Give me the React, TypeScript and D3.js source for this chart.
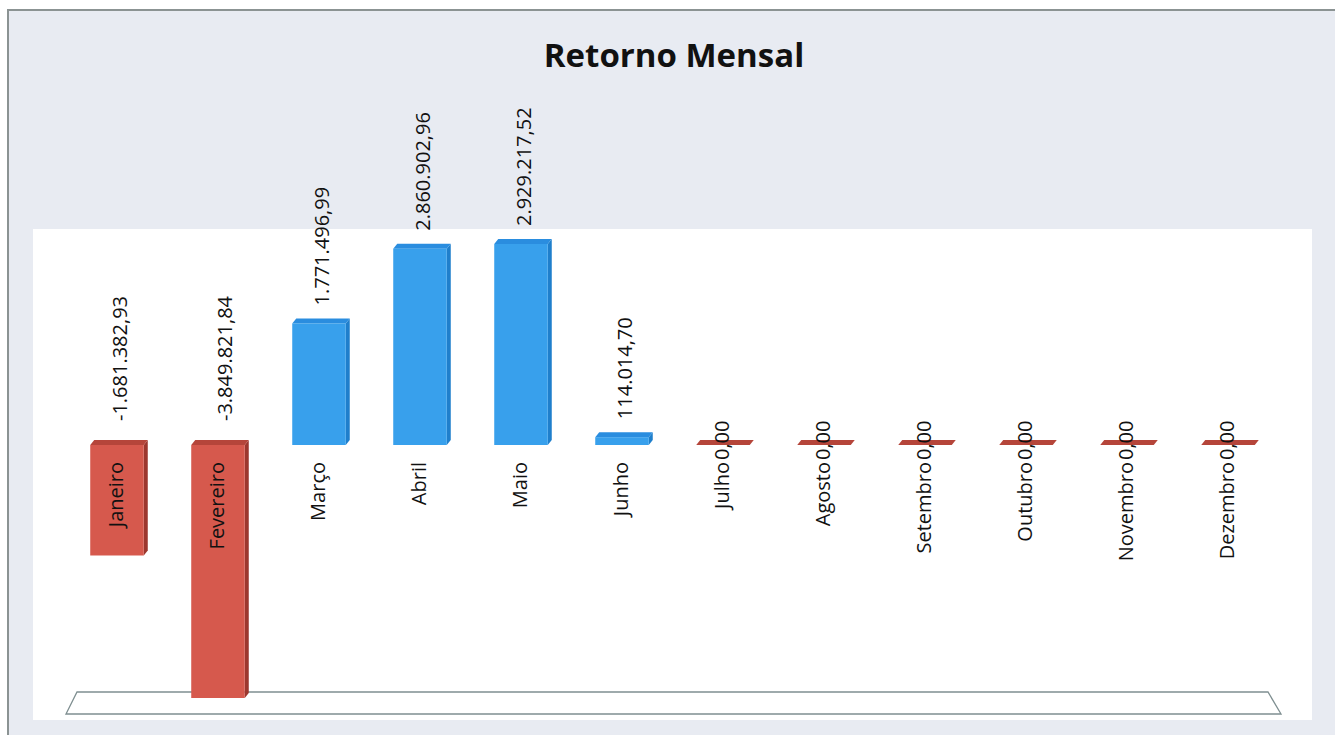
import React from "react";
import * as d3 from "d3";

const months = ["Janeiro", "Fevereiro", "Março", "Abril", "Maio", "Junho", "Julho", "Agosto", "Setembro", "Outubro", "Novembro", "Dezembro"];
const returns = [-1681382.93, -3849821.84, 1771496.99, 2860902.96, 2929217.52, 114014.7, 0, 0, 0, 0, 0, 0];
const title = "Retorno Mensal";

const W = 1335;
const H = 735;
const FONT = "'Open Sans', 'Noto Sans', sans-serif";

const locale = d3.formatLocale({ decimal: ",", thousands: ".", grouping: [3], currency: ["R$", ""], minus: "-" });
const fmt = locale.format(",.2f");

const colors = {
  pos: { front: "#38a0ec", side: "#1f7fcc", top: "#2a8ddf" },
  neg: { front: "#d6594d", side: "#9c372e", top: "#b5453a" },
};

export default function App() {
  const x = d3.scalePoint<string>().domain(months).range([117, 1228]);
  const step = x.step();
  const bw = step * 0.53;
  const y = d3.scaleLinear().domain([-3849821.84, 0, 2929217.52]).range([698, 445, 244]);
  const y0 = y(0);
  const dx = 4;
  const dy = 5;

  return (
    <svg width={W} height={H} style={{ position: "absolute", left: 0, top: 0, display: "block" }}>
      <rect x={0} y={0} width={W} height={H} fill="#ffffff" />
      <rect x={8} y={10} width={W + 20} height={H + 20} fill="#e8ebf2" stroke="#8b9393" strokeWidth={2} />
      <rect x={33} y={229} width={1279} height={491} fill="#ffffff" />
      <text x={674} y={67} textAnchor="middle" fontFamily={FONT} fontWeight={700} fontSize={33} fill="#111">
        {title}
      </text>
      {/* floor */}
      <polygon
        points={`77,692 1268,692 1281,714 66,714`}
        fill="none"
        stroke="#7f8f91"
        strokeWidth={1.3}
      />
      {months.map((m, i) => {
        const v = returns[i];
        const cx = x(m) as number;
        const x0 = cx - bw / 2;
        const c = v > 0 ? colors.pos : colors.neg;
        const yt = v > 0 ? y(v) : y0;
        const yb = v > 0 ? y0 : y(v);
        const h = yb - yt;
        return (
          <g key={m}>
            {h > 0 && (
              <polygon
                points={`${x0 + bw},${yt} ${x0 + bw + dx},${yt - dy} ${x0 + bw + dx},${yb - dy} ${x0 + bw},${yb}`}
                fill={c.side}
              />
            )}
            <polygon
              points={`${x0},${yt} ${x0 + dx},${yt - dy} ${x0 + bw + dx},${yt - dy} ${x0 + bw},${yt}`}
              fill={v === 0 ? c.top : c.top}
            />
            {h > 0 && <rect x={x0} y={yt} width={bw} height={h} fill={c.front} />}
          </g>
        );
      })}
      {months.map((m) => {
        const cx = (x(m) as number) - 2;
        return (
          <text
            key={"c" + m}
            transform={`translate(${cx},462) rotate(-90)`}
            textAnchor="end"
            dominantBaseline="central"
            fontFamily={FONT}
            fontSize={20}
            fill="#111"
          >
            {m}
          </text>
        );
      })}
      {months.map((m, i) => {
        const v = returns[i];
        const cx = (x(m) as number) + (i === 1 ? 6 : 2) - (v === 0 ? 4 : 0);
        const yb = v > 0 ? y(v) - 18 : v < 0 ? y0 - 24 : y0 + 15;
        return (
          <text
            key={"v" + m}
            transform={`translate(${cx},${yb}) rotate(-90)`}
            textAnchor="start"
            dominantBaseline="central"
            fontFamily={FONT}
            fontSize={20}
            fill="#111"
          >
            {fmt(v)}
          </text>
        );
      })}
    </svg>
  );
}
